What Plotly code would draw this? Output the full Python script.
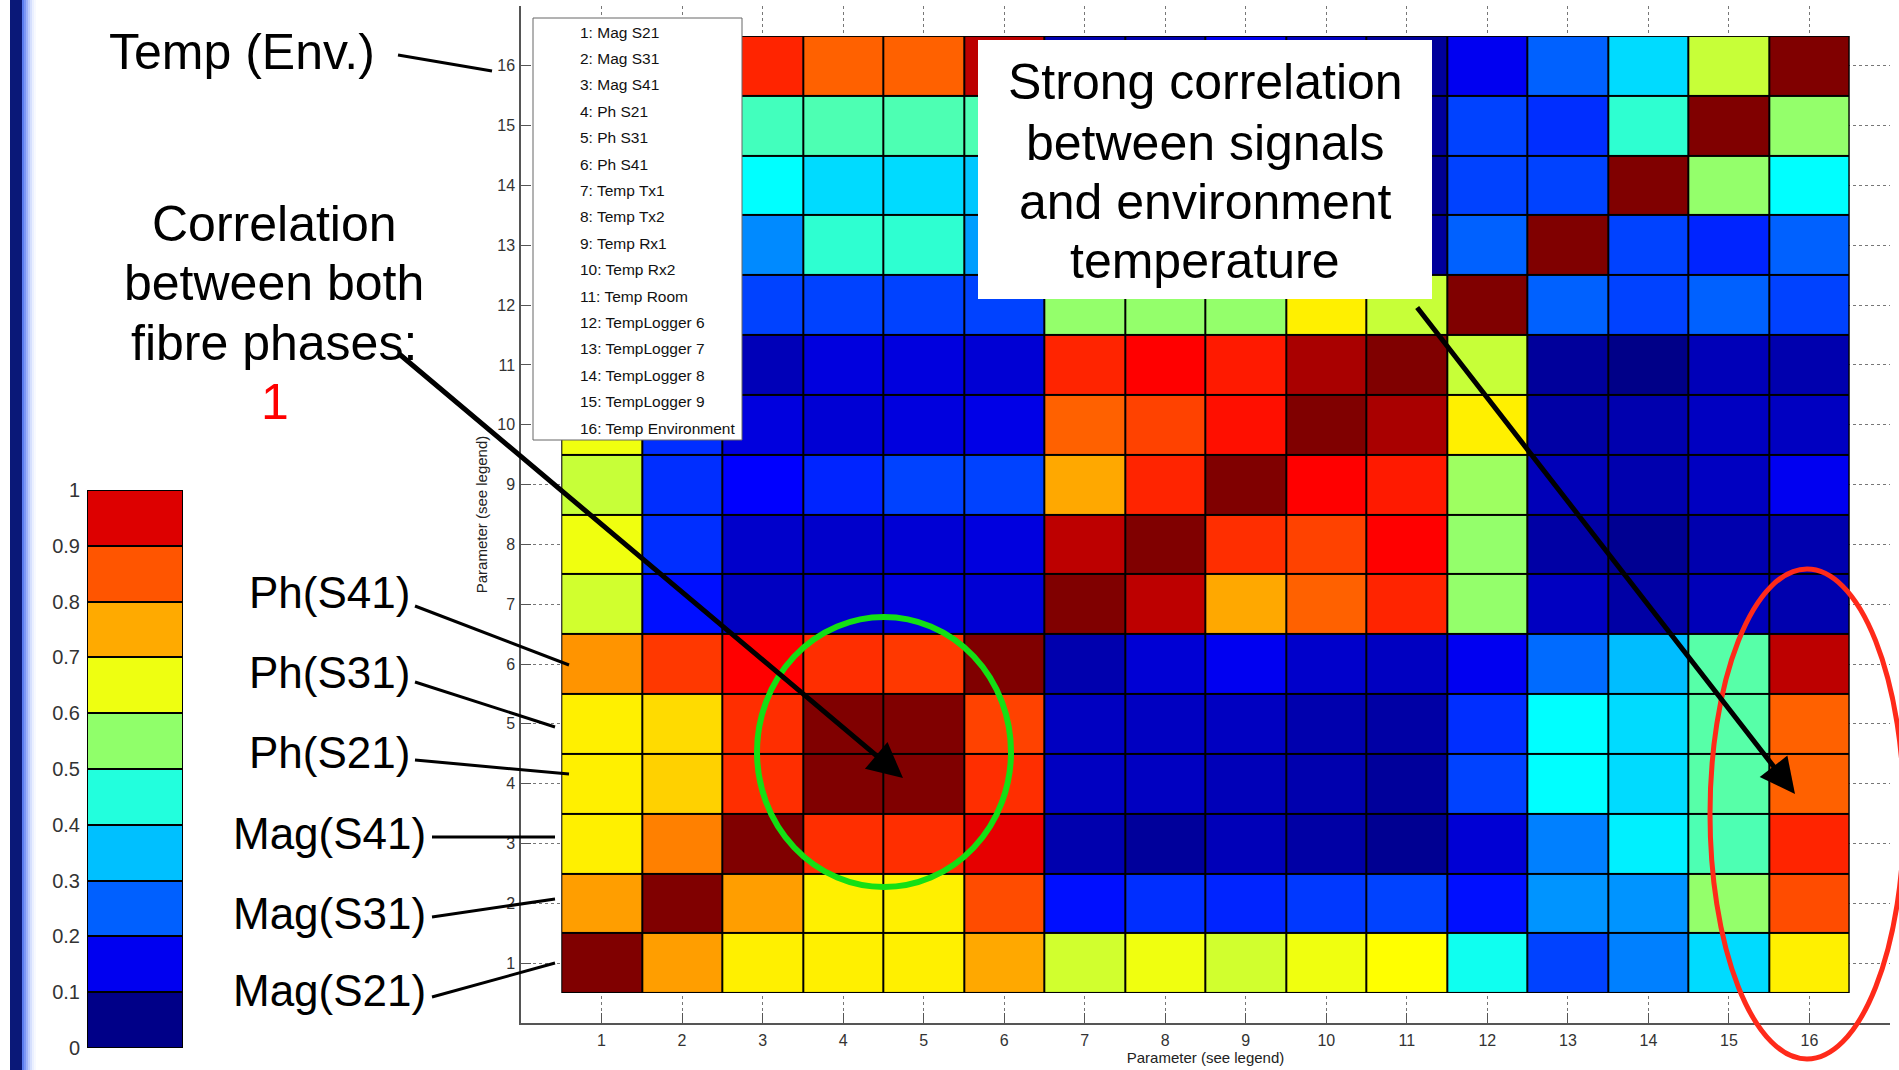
import plotly.graph_objects as go

# ---------------- data ----------------
params = ["Mag S21", "Mag S31", "Mag S41", "Ph S21", "Ph S31", "Ph S41",
          "Temp Tx1", "Temp Tx2", "Temp Rx1", "Temp Rx2", "Temp Room",
          "TempLogger 6", "TempLogger 7", "TempLogger 8", "TempLogger 9",
          "Temp Environment"]
param_idx = list(range(1, 17))

# correlation rows, y = 1 .. 16 (each row: x = 1 .. 16)
r01 = [1.00, 0.72, 0.64, 0.64, 0.64, 0.71, 0.58, 0.61, 0.58, 0.61, 0.625, 0.39, 0.19, 0.25, 0.34, 0.64]
r02 = [0.72, 1.00, 0.72, 0.64, 0.64, 0.80, 0.14, 0.17, 0.16, 0.18, 0.19, 0.14, 0.27, 0.27, 0.52, 0.80]
r03 = [0.64, 0.75, 1.00, 0.83, 0.83, 0.90, 0.04, 0.02, 0.05, 0.03, 0.01, 0.08, 0.25, 0.36, 0.45, 0.84]
r04 = [0.64, 0.67, 0.83, 1.00, 1.00, 0.83, 0.06, 0.06, 0.05, 0.04, 0.02, 0.19, 0.375, 0.34, 0.46, 0.78]
r05 = [0.64, 0.66, 0.83, 1.00, 1.00, 0.81, 0.06, 0.06, 0.06, 0.04, 0.03, 0.17, 0.375, 0.34, 0.46, 0.78]
r06 = [0.73, 0.82, 0.875, 0.83, 0.82, 1.00, 0.04, 0.08, 0.11, 0.07, 0.06, 0.11, 0.23, 0.31, 0.46, 0.94]
r07 = [0.58, 0.14, 0.06, 0.07, 0.09, 0.08, 1.00, 0.94, 0.71, 0.78, 0.84, 0.52, 0.06, 0.03, 0.05, 0.04]
r08 = [0.61, 0.17, 0.07, 0.07, 0.08, 0.09, 0.94, 1.00, 0.83, 0.81, 0.875, 0.52, 0.03, 0.01, 0.04, 0.04]
r09 = [0.57, 0.17, 0.125, 0.16, 0.19, 0.19, 0.71, 0.84, 1.00, 0.875, 0.85, 0.53, 0.05, 0.04, 0.06, 0.11]
r10 = [0.61, 0.17, 0.09, 0.08, 0.09, 0.10, 0.78, 0.81, 0.86, 1.00, 0.96, 0.64, 0.03, 0.04, 0.06, 0.06]
r11 = [0.625, 0.19, 0.05, 0.09, 0.09, 0.08, 0.84, 0.875, 0.85, 0.96, 1.00, 0.57, 0.02, 0.00, 0.05, 0.04]
r12 = [0.39, 0.14, 0.19, 0.19, 0.19, 0.19, 0.52, 0.52, 0.52, 0.64, 0.57, 1.00, 0.22, 0.19, 0.22, 0.19]
r13 = [0.19, 0.27, 0.26, 0.42, 0.42, 0.28, 0.06, 0.03, 0.05, 0.03, 0.02, 0.22, 1.00, 0.19, 0.16, 0.22]
r14 = [0.25, 0.27, 0.375, 0.34, 0.34, 0.32, 0.03, 0.01, 0.04, 0.04, 0.01, 0.19, 0.19, 1.00, 0.52, 0.375]
r15 = [0.34, 0.52, 0.44, 0.45, 0.45, 0.45, 0.05, 0.04, 0.06, 0.06, 0.02, 0.19, 0.17, 0.42, 1.00, 0.52]
r16 = [0.64, 0.80, 0.84, 0.78, 0.78, 0.94, 0.04, 0.04, 0.11, 0.06, 0.02, 0.11, 0.22, 0.34, 0.57, 1.00]
corr = [r01, r02, r03, r04, r05, r06, r07, r08, r09, r10, r11, r12, r13, r14, r15, r16]

cbar_edges = [0.0, 0.1, 0.2, 0.3, 0.4, 0.5, 0.6, 0.7, 0.8, 0.9, 1.0]
cbar_tick_text = ["0", "0.1", "0.2", "0.3", "0.4", "0.5", "0.6", "0.7", "0.8", "0.9", "1"]
cbar_colors = ["#000088", "#0000F0", "#0060FF", "#00C0FF", "#22FFDD",
               "#90FF6A", "#EEFF11", "#FFAA00", "#FF5500", "#DD0000"]

side_labels = ["Mag(S21)", "Mag(S31)", "Mag(S41)", "Ph(S21)", "Ph(S31)", "Ph(S41)"]

# ---------------- layout helpers ----------------
W, H = 1899, 1070
FONT = "Liberation Sans, Arial, sans-serif"


def fx(px):
    return px / W


def fy(py):
    return 1 - py / H


jet = [[0.0, "rgb(0,0,136)"], [0.125, "rgb(0,0,255)"], [0.375, "rgb(0,255,255)"],
       [0.625, "rgb(255,255,0)"], [0.875, "rgb(255,0,0)"], [1.0, "rgb(128,0,0)"]]

# discrete colourscale for the side colour bar
disc = []
for i, c in enumerate(cbar_colors):
    disc.append([cbar_edges[i], c])
    disc.append([cbar_edges[i + 1], c])
cbar_centers = [(cbar_edges[i] + cbar_edges[i + 1]) / 2 for i in range(len(cbar_colors))]

n = len(params)

fig = go.Figure()
fig.add_trace(go.Heatmap(
    x=param_idx, y=param_idx, z=corr, zmin=0, zmax=1, colorscale=jet,
    showscale=False, xgap=2, ygap=2, hoverinfo="skip", xaxis="x", yaxis="y"))

fig.add_trace(go.Heatmap(
    x=[0], y=cbar_centers, z=[[v] for v in cbar_centers], zmin=0, zmax=1,
    colorscale=disc, showscale=False, xgap=2, ygap=2, hoverinfo="skip",
    xaxis="x2", yaxis="y2"))

shapes = []
# black backing for cell borders
shapes.append(dict(type="rect", xref="x", yref="y", x0=0.5, x1=n + 0.5, y0=0.5, y1=n + 0.5,
                   fillcolor="black", line=dict(width=0), layer="between"))
shapes.append(dict(type="rect", xref="x2", yref="y2", x0=-0.5, x1=0.5, y0=0, y1=1,
                   fillcolor="black", line=dict(width=0), layer="between"))

# left navy slide bar
shapes.append(dict(type="rect", xref="paper", yref="paper", x0=fx(10), x1=fx(22), y0=0, y1=1,
                   fillcolor="#0A1878", line=dict(width=0)))
grad = ["#5A7CF0", "#7C97F6", "#9DB1FA", "#BCCBFC", "#D6E0FE", "#EBF0FF", "#F7F9FF"]
for i, c in enumerate(grad):
    shapes.append(dict(type="rect", xref="paper", yref="paper", x0=fx(22 + 2 * i), x1=fx(24 + 2 * i),
                       y0=0, y1=1, fillcolor=c, line=dict(width=0)))

# legend box
shapes.append(dict(type="rect", xref="paper", yref="paper", x0=fx(533), x1=fx(742), y0=fy(440), y1=fy(18),
                   fillcolor="white", line=dict(color="#666", width=1)))
# text box
shapes.append(dict(type="rect", xref="paper", yref="paper", x0=fx(978), x1=fx(1432), y0=fy(299), y1=fy(40),
                   fillcolor="white", line=dict(width=0)))

# leader lines
leaders = [((398, 55), (492, 71)),
           ((415, 606), (569, 665)),
           ((415, 682), (555, 727)),
           ((415, 760), (569, 774)),
           ((432, 837), (555, 837)),
           ((432, 917), (555, 899)),
           ((432, 997), (555, 963))]
for (a, b) in leaders:
    shapes.append(dict(type="line", xref="paper", yref="paper", x0=fx(a[0]), y0=fy(a[1]),
                       x1=fx(b[0]), y1=fy(b[1]), line=dict(color="black", width=3)))

# green circle and red ellipse
shapes.append(dict(type="circle", xref="paper", yref="paper", x0=fx(757), x1=fx(1011), y0=fy(887), y1=fy(617),
                   line=dict(color="#14E014", width=6)))
shapes.append(dict(type="circle", xref="paper", yref="paper", x0=fx(1710), x1=fx(1904), y0=fy(1059), y1=fy(569),
                   line=dict(color="#FF2A1A", width=5)))

ann = []
big = dict(family=FONT, size=50, color="black")
ann.append(dict(text="Temp (Env.)", x=fx(242), y=fy(52), xref="paper", yref="paper",
                showarrow=False, font=big, xanchor="center", yanchor="middle"))
for txt, yy in [("Correlation", 224), ("between both", 283), ("fibre phases:", 343)]:
    ann.append(dict(text=txt, x=fx(274), y=fy(yy), xref="paper", yref="paper",
                    showarrow=False, font=big, xanchor="center", yanchor="middle"))
ann.append(dict(text="1", x=fx(275), y=fy(402), xref="paper", yref="paper", showarrow=False,
                font=dict(family=FONT, size=50, color="#FF0000"), xanchor="center", yanchor="middle"))
for txt, yy in [("Strong correlation", 82), ("between signals", 143),
                ("and environment", 202), ("temperature", 261)]:
    ann.append(dict(text=txt, x=fx(1205), y=fy(yy), xref="paper", yref="paper",
                    showarrow=False, font=big, xanchor="center", yanchor="middle"))

# side labels (bottom to top)
side_y = [990, 913, 833, 752, 672, 592]
for txt, yy in zip(side_labels, side_y):
    ann.append(dict(text=txt, x=fx(329), y=fy(yy), xref="paper", yref="paper", showarrow=False,
                    font=dict(family=FONT, size=44, color="black"), xanchor="center", yanchor="middle"))

# legend entries
for i, p in enumerate(params):
    ann.append(dict(text=f"{i + 1}: {p}", x=fx(578), y=fy(32 + 26.4 * i), xref="paper", yref="paper",
                    showarrow=False, font=dict(family=FONT, size=15.5, color="#111"),
                    xanchor="left", yanchor="middle"))

# arrows
for tail, tip in [((398, 353), (903, 778)), ((1416, 306), (1795, 794))]:
    ann.append(dict(text="", x=fx(tip[0]), y=fy(tip[1]), xref="paper", yref="paper",
                    ax=tail[0] - tip[0], ay=tail[1] - tip[1], axref="pixel", ayref="pixel",
                    showarrow=True, arrowhead=2, arrowsize=1.4, arrowwidth=5, arrowcolor="black"))

fig.update_layout(
    width=W, height=H, autosize=False,
    margin=dict(l=0, r=0, t=0, b=0, pad=0, autoexpand=False),
    paper_bgcolor="white", plot_bgcolor="white",
    font=dict(family=FONT, color="#222"),
    showlegend=False,
    shapes=shapes, annotations=ann,
    xaxis=dict(domain=[fx(521), fx(1890)], range=[0, 17], tickvals=param_idx, automargin=False,
               ticks="inside", ticklen=10, tickcolor="#555", showline=True, linecolor="#555",
               linewidth=1.5, showgrid=True, gridcolor="#777", griddash="dot", gridwidth=1,
               zeroline=False, tickfont=dict(size=16, color="#333"), ticklabelstandoff=2,
               title=dict(text="Parameter (see legend)", font=dict(size=15, color="#222"), standoff=2),
               anchor="y", fixedrange=True),
    yaxis=dict(domain=[fy(1023), fy(6)], range=[0, 17], tickvals=param_idx, automargin=False,
               ticks="inside", ticklen=10, tickcolor="#555", showline=True, linecolor="#555",
               linewidth=1.5, showgrid=True, gridcolor="#777", griddash="dot", gridwidth=1,
               zeroline=False, tickfont=dict(size=16, color="#333"), ticklabelstandoff=1,
               title=dict(text="Parameter (see legend)", font=dict(size=15, color="#222"), standoff=6),
               anchor="x", fixedrange=True),
    xaxis2=dict(domain=[fx(87), fx(183)], range=[-0.5, 0.5], visible=False, anchor="y2",
                fixedrange=True, automargin=False),
    yaxis2=dict(domain=[fy(1048), fy(490)], range=[0, 1], tickvals=cbar_edges, ticktext=cbar_tick_text,
                ticks="", showline=False, showgrid=False, zeroline=False, anchor="x2", side="left",
                tickfont=dict(size=20, color="#333"), ticklabelstandoff=6, fixedrange=True,
                automargin=False),
)

fig.write_html("out.html")
